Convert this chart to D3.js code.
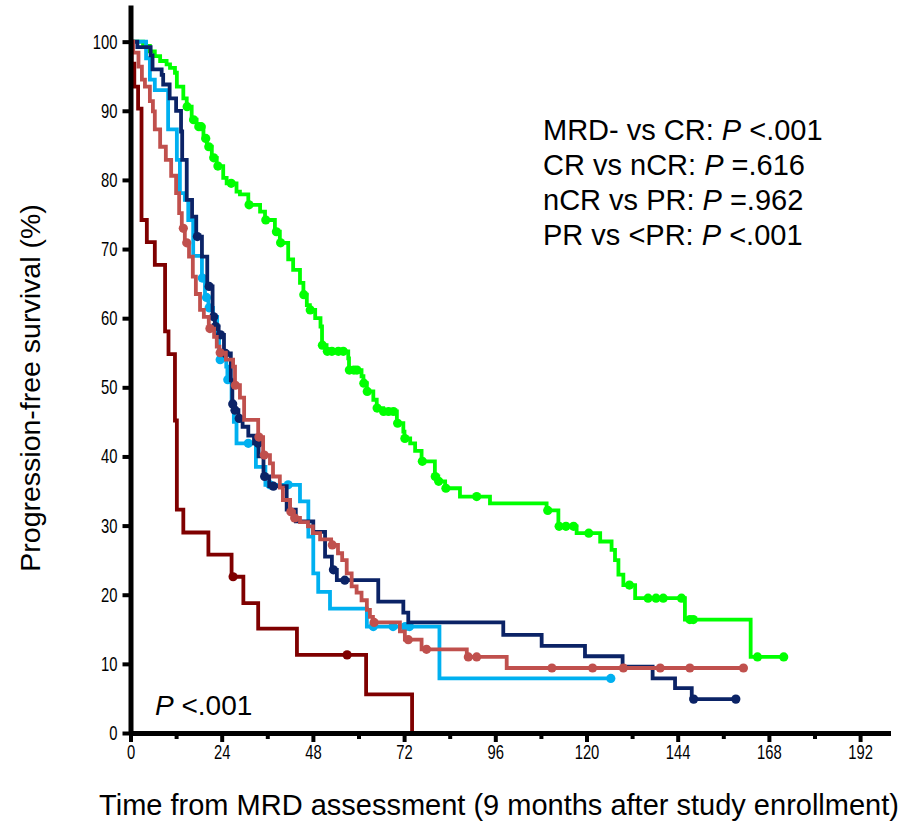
<!DOCTYPE html>
<html>
<head>
<meta charset="utf-8">
<script src="https://cdn.jsdelivr.net/npm/d3@7"></script>
<style>
  html, body { margin: 0; padding: 0; background: #fff; }
  svg { display: block; }
</style>
</head>
<body>
<svg id="chart" width="903" height="825"></svg>
<script>
// Axis ticks
const xTicks = [0, 24, 48, 72, 96, 120, 144, 168, 192];
const xMinorTicks = [12, 36, 60, 84, 108, 132, 156, 180];
const yTicks = [0, 10, 20, 30, 40, 50, 60, 70, 80, 90, 100];

// Kaplan–Meier curves: event times (months) and survival (%) right after each event,
// censored times, and the time where each curve stops.
const mrdNegTimes = [0, 3.3, 5.1, 6.4, 7.8, 9.5, 10.4, 11.7, 12.2, 13.9, 14.8, 16.1, 17.4, 19.2, 20.1, 21.4, 22.7, 24.4, 25.3, 27.9, 28.8, 31.0, 34.1, 35.4, 38.0, 39.3, 41.5, 42.8, 44.6, 45.5, 46.4, 47.2, 48.6, 50.0, 50.4, 51.6, 57.3, 57.5, 60.8, 61.3, 62.2, 63.9, 64.8, 66.5, 70.1, 71.8, 72.1, 73.6, 74.9, 76.6, 80.1, 81.0, 82.8, 86.7, 94.6, 109.5, 112.6, 117.4, 123.6, 126.6, 127.5, 128.4, 129.7, 132.8, 145.9, 163.2];
const mrdNegSurv = [100, 99.4, 98.6, 97.9, 97.2, 96.7, 96.2, 95.5, 93.5, 91.8, 90.6, 88.7, 87.7, 86.0, 84.8, 83.2, 82.0, 80.3, 79.5, 78.3, 77.9, 76.4, 75.4, 74.2, 72.5, 70.9, 68.5, 67.0, 65.1, 63.4, 61.9, 61.2, 60.0, 58.8, 56.1, 55.2, 54.2, 52.5, 51.6, 50.6, 49.4, 48.2, 47.0, 46.5, 44.8, 43.6, 42.6, 41.9, 40.8, 39.3, 37.1, 36.4, 35.4, 34.2, 33.2, 32.2, 29.9, 28.9, 27.7, 26.5, 25.0, 22.9, 21.4, 19.5, 16.4, 11.0];
const mrdNegCensor = [14.9, 16.6, 18.0, 18.6, 19.8, 20.6, 21.9, 23.0, 26.5, 31.2, 35.6, 38.4, 39.5, 45.6, 47.3, 50.5, 51.8, 53.0, 54.7, 56.0, 57.6, 58.8, 59.6, 61.4, 62.3, 64.9, 66.6, 67.9, 69.2, 70.3, 72.2, 76.8, 80.2, 81.1, 83.0, 91.1, 109.8, 112.8, 114.6, 116.6, 120.6, 131.3, 136.2, 138.3, 140.2, 145.0, 147.2, 148.1, 165.0, 171.9];
const mrdNegEnd = 171.9;

const crTimes = [0, 1.8, 5.3, 5.8, 8.2, 8.6, 10.3, 12.0, 13.3, 13.6, 14.8, 16.2, 17.3, 18.8, 20.2, 21.6, 22.2, 23.2, 24.6, 26.4, 26.8, 27.4, 28.4, 29.5, 31.0, 32.5, 33.7, 35.0, 36.5, 41.1, 43.5, 48.1, 51.2, 53.0, 54.3, 65.2, 71.8, 73.1, 98.1, 108.2, 119.6, 129.5, 137.4, 143.3, 147.7];
const crSurv = [100, 99.2, 98.0, 96.0, 95.2, 93.8, 91.8, 90.0, 87.0, 82.9, 77.1, 74.7, 71.8, 68.9, 64.6, 60.2, 58.8, 57.6, 54.9, 51.0, 47.6, 46.7, 45.5, 44.3, 43.0, 41.9, 40.0, 37.1, 35.7, 32.3, 30.6, 29.1, 25.5, 23.6, 22.1, 19.0, 17.4, 16.0, 14.2, 12.6, 11.1, 9.6, 7.9, 6.5, 4.9];
const crCensor = [17.6, 20.7, 21.9, 22.4, 23.7, 25.0, 26.9, 27.5, 28.6, 33.6, 35.3, 37.6, 53.4, 56.4, 148.2, 159.3];
const crEnd = 159.3;

const ncrTimes = [0, 4.1, 5.1, 6.4, 9.9, 12.2, 13.0, 14.3, 15.2, 16.5, 18.8, 19.6, 20.5, 21.7, 22.8, 23.3, 25.2, 25.5, 26.6, 27.2, 27.9, 33.0, 35.5, 44.6, 46.8, 48.1, 49.4, 52.5, 62.2, 81.3];
const ncrSurv = [100, 97.6, 94.5, 93.0, 87.3, 82.9, 78.1, 77.1, 74.2, 69.0, 65.8, 63.0, 61.5, 60.2, 56.9, 54.0, 53.0, 51.1, 47.5, 45.0, 41.9, 38.5, 35.9, 33.5, 28.4, 23.1, 20.4, 18.0, 15.4, 7.9];
const ncrCensor = [18.9, 20.0, 20.7, 23.6, 25.6, 31.0, 36.7, 41.5, 63.9, 69.1, 72.3, 73.4, 126.4];
const ncrEnd = 126.4;

const prTimes = [0, 0.7, 2.1, 3.0, 3.8, 5.1, 5.9, 6.4, 7.8, 9.3, 10.7, 12.0, 12.8, 13.5, 14.3, 15.4, 16.4, 17.2, 18.3, 19.3, 20.6, 22.0, 22.7, 23.4, 25.1, 27.0, 27.5, 28.8, 29.9, 33.6, 34.9, 36.7, 37.5, 39.3, 40.1, 42.0, 43.0, 44.6, 46.7, 48.0, 49.9, 52.8, 54.6, 55.7, 56.9, 58.2, 59.5, 60.8, 62.2, 63.0, 63.8, 70.9, 72.2, 76.6, 88.5, 99.0];
const prSurv = [100, 98.4, 96.4, 94.5, 93.5, 91.4, 89.9, 87.3, 84.8, 82.9, 80.6, 78.1, 75.2, 73.0, 70.9, 68.9, 66.0, 63.5, 61.2, 60.2, 58.5, 57.3, 55.9, 55.0, 54.0, 53.0, 50.3, 48.5, 45.3, 42.8, 40.2, 39.0, 37.1, 35.5, 33.7, 32.0, 31.1, 30.5, 29.9, 28.9, 28.0, 27.2, 26.0, 25.0, 23.1, 21.2, 20.3, 19.2, 17.8, 16.8, 16.0, 14.7, 13.5, 12.1, 11.0, 9.4];
const prCensor = [13.9, 14.8, 20.9, 23.6, 27.6, 33.8, 35.2, 42.2, 43.2, 53.1, 64.1, 73.1, 77.9, 88.9, 91.1, 110.9, 121.6, 129.7, 139.4, 147.2, 161.3];
const prEnd = 161.3;

const ltPrTimes = [0, 0.3, 1.0, 2.0, 2.9, 4.3, 6.4, 9.1, 10.0, 11.7, 12.2, 13.9, 20.5, 26.6, 29.7, 33.6, 43.8, 62.0, 74.1];
const ltPrSurv = [100, 96.8, 93.5, 90.3, 74.2, 71.0, 67.7, 58.1, 54.8, 45.2, 32.3, 29.0, 25.8, 22.6, 18.8, 15.1, 11.3, 5.6, 0];
const ltPrCensor = [27.0, 57.0];
const ltPrEnd = 74.1;

// Pairwise log-rank comparisons
const comparisonLabels = ["MRD- vs CR: ", "CR vs nCR: ", "nCR vs PR: ", "PR vs <PR: "];
const comparisonValues = [" <.001", " =.616", " =.962", " <.001"];
const overallValue = " <.001";

const groups = [
  { name: "MRD-", times: mrdNegTimes, surv: mrdNegSurv, censor: mrdNegCensor, end: mrdNegEnd, color: "#00ff00" },
  { name: "nCR", times: ncrTimes, surv: ncrSurv, censor: ncrCensor, end: ncrEnd, color: "#00b0f0" },
  { name: "CR", times: crTimes, surv: crSurv, censor: crCensor, end: crEnd, color: "#0b2366" },
  { name: "PR", times: prTimes, surv: prSurv, censor: prCensor, end: prEnd, color: "#c0504d" },
  { name: "<PR", times: ltPrTimes, surv: ltPrSurv, censor: ltPrCensor, end: ltPrEnd, color: "#7f0000" }
];

const svg = d3.select("#chart");
const x = d3.scaleLinear().domain([0, 200]).range([130.5, 890.5]);
const y = d3.scaleLinear().domain([0, 105.3]).range([733, 5]);

const mainFont = "'Liberation Sans', Arial, Helvetica, sans-serif";
const tickScale = 0.74; // horizontally condensed tick numerals

// Survival value of a step curve at time t
function survAt(g, t) {
  const i = d3.bisectRight(g.times, t) - 1;
  return g.surv[Math.max(0, i)];
}

const stepLine = d3.line()
  .x(d => x(d[0]))
  .y(d => y(d[1]))
  .curve(d3.curveStepAfter);

const curves = svg.append("g");
groups.forEach(g => {
  const pts = g.times.map((t, i) => [t, g.surv[i]]);
  const last = pts[pts.length - 1];
  if (g.end > last[0]) pts.push([g.end, last[1]]);
  const grp = curves.append("g");
  grp.append("path")
    .attr("d", stepLine(pts))
    .attr("fill", "none")
    .attr("stroke", g.color)
    .attr("stroke-width", 3.8)
    .attr("stroke-linejoin", "miter");
  grp.selectAll("circle")
    .data(g.censor)
    .join("circle")
    .attr("cx", t => x(t))
    .attr("cy", t => y(survAt(g, t)))
    .attr("r", 4.6)
    .attr("fill", g.color);
});

// Y axis
const yAxis = svg.append("g")
  .attr("transform", `translate(${x(0)},0)`)
  .call(d3.axisLeft(y).tickValues(yTicks).tickSize(8).tickSizeOuter(0).tickPadding(5));
yAxis.select(".domain").attr("stroke", "#000").attr("stroke-width", 5);
yAxis.selectAll(".tick line").attr("stroke", "#000").attr("stroke-width", 4);
yAxis.selectAll(".tick text")
  .attr("font-family", mainFont)
  .attr("font-size", 20)
  .attr("fill", "#000")
  .attr("x", -13 / tickScale)
  .attr("transform", `scale(${tickScale},1)`);

// X axis
const xAxis = svg.append("g")
  .attr("transform", `translate(0,${y(0)})`)
  .call(d3.axisBottom(x).tickValues(xTicks).tickSize(9).tickSizeOuter(0).tickPadding(3));
xAxis.select(".domain").attr("stroke", "#000").attr("stroke-width", 5);
xAxis.selectAll(".tick line").attr("stroke", "#000").attr("stroke-width", 4);
xAxis.selectAll(".tick text")
  .attr("font-family", mainFont)
  .attr("font-size", 20)
  .attr("fill", "#000")
  .attr("transform", `scale(${tickScale},1)`);

const xMinor = svg.append("g")
  .attr("transform", `translate(0,${y(0)})`)
  .call(d3.axisBottom(x).tickValues(xMinorTicks).tickSize(6).tickFormat(""));
xMinor.select(".domain").remove();
xMinor.selectAll(".tick line").attr("stroke", "#000").attr("stroke-width", 4);

// Axis titles
svg.append("text")
  .attr("transform", "translate(40,388) rotate(-90)")
  .attr("text-anchor", "middle")
  .attr("font-family", mainFont)
  .attr("font-size", 28.5)
  .text("Progression-free survival (%)");

svg.append("text")
  .attr("x", 499)
  .attr("y", 815)
  .attr("text-anchor", "middle")
  .attr("font-family", mainFont)
  .attr("font-size", 29)
  .text("Time from MRD assessment (9 months after study enrollment)");

// Pairwise comparison annotations
const ann = svg.append("g").attr("font-family", mainFont).attr("font-size", 29);
comparisonLabels.forEach((lab, i) => {
  const t = ann.append("text").attr("x", 543).attr("y", 140 + i * 35);
  t.append("tspan").text(lab);
  t.append("tspan").attr("font-style", "italic").text("P");
  t.append("tspan").text(comparisonValues[i]);
});

const overall = svg.append("text")
  .attr("x", 155).attr("y", 715)
  .attr("font-family", mainFont).attr("font-size", 28);
overall.append("tspan").attr("font-style", "italic").text("P");
overall.append("tspan").text(overallValue);
</script>
</body>
</html>
